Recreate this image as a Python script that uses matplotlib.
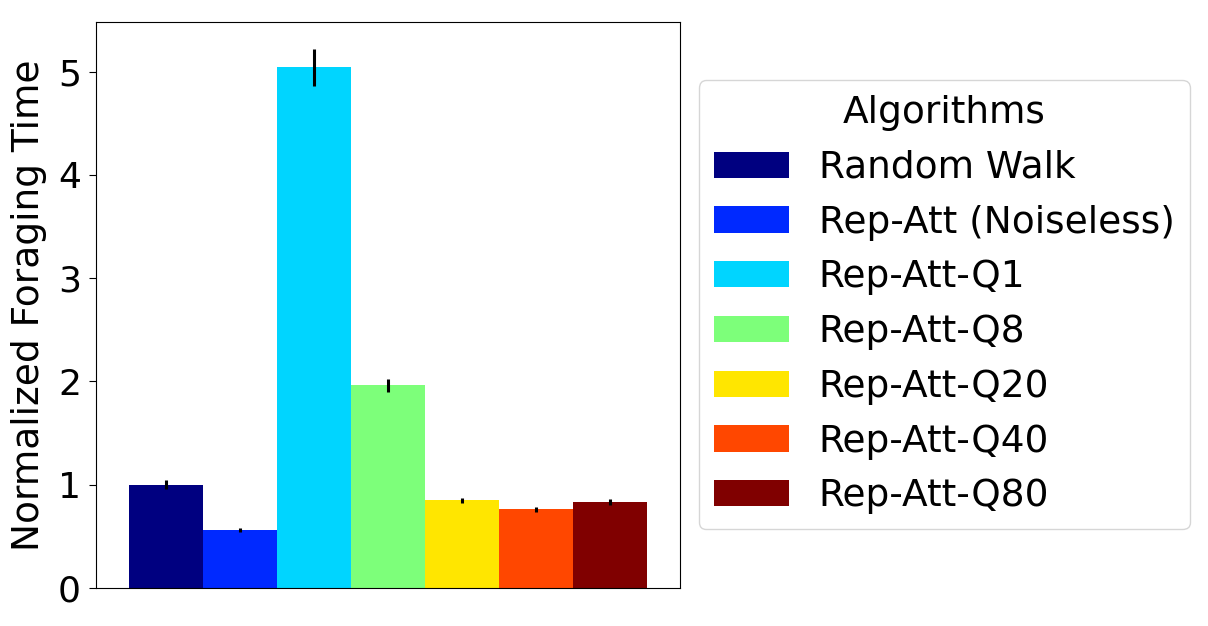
import matplotlib
matplotlib.use("Agg")
import matplotlib.pyplot as plt
import numpy as np

algorithms = ["Random Walk", "Rep-Att (Noiseless)", "Rep-Att-Q1", "Rep-Att-Q8",
              "Rep-Att-Q20", "Rep-Att-Q40", "Rep-Att-Q80"]
values = [1.0, 0.56, 5.04, 1.96, 0.85, 0.76, 0.83]
errors = [0.044, 0.02, 0.18, 0.065, 0.024, 0.024, 0.026]
y_ticks = [0, 1, 2, 3, 4, 5]

colors = plt.cm.jet(np.linspace(0, 1, len(algorithms)))

fig = plt.figure(figsize=(12.08, 6.26), dpi=100)
ax = fig.add_axes([0.0795, 0.061, 0.4835, 0.904])

for i, (name, v, e, c) in enumerate(zip(algorithms, values, errors, colors)):
    ax.bar(i, v, width=1.0, color=c, yerr=e, ecolor="black",
           error_kw=dict(elinewidth=2.2), label=name)

ax.set_xlim(-0.94, 6.94)
ax.set_xticks([])
ax.set_yticks(y_ticks)
ax.tick_params(axis="y", labelsize=26, length=4.8, pad=6)
ax.set_ylabel("Normalized Foraging Time", fontsize=27, labelpad=8)

leg = ax.legend(title="Algorithms", loc="center left", bbox_to_anchor=(1.0, 0.5),
                fontsize=27, title_fontsize=27, labelspacing=0.5)

fig.savefig("out.png", dpi=100)
